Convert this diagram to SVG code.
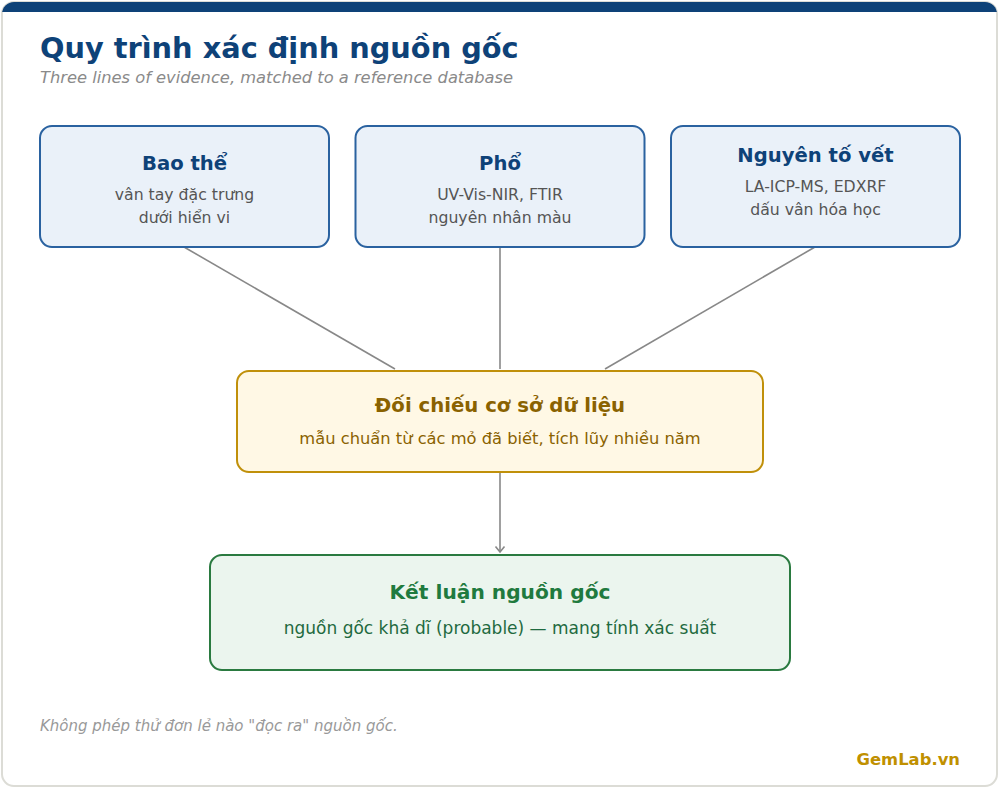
<svg xmlns="http://www.w3.org/2000/svg" width="1000" height="789" viewBox="0 0 1000 789">
<style>
text{font-family:"DejaVu Sans","Noto Sans",sans-serif}
.card{fill:#eaf1f9;stroke:#2a62a0;stroke-width:2}
.ct{font-size:19.6px;font-weight:bold;fill:#0e4278;text-anchor:middle}
.cs{font-size:15.7px;fill:#555;text-anchor:middle}
.conn{stroke:#888;stroke-width:1.6;fill:none}
</style>
<defs>
<marker id="arr" viewBox="0 0 12 12" refX="10.5" refY="6" markerWidth="12" markerHeight="12" markerUnits="userSpaceOnUse" orient="auto">
<path d="M5,1.5 L10.5,6 L5,10.5" fill="none" stroke="#888" stroke-width="1.6"/>
</marker>
<clipPath id="cc"><rect x="2" y="2" width="995" height="784" rx="12"/></clipPath>
</defs>
<rect x="0" y="0" width="1000" height="789" fill="#ffffff"/>
<rect x="2" y="2" width="995" height="784" rx="12" fill="#fff" stroke="#dcdcd6" stroke-width="2"/>
<rect x="2" y="2" width="995" height="10" fill="#0e4278" clip-path="url(#cc)"/>
<text x="40" y="58" font-size="28.8" font-weight="bold" fill="#0e4278">Quy trình xác định nguồn gốc</text>
<text x="40" y="83" font-size="16.3" font-style="italic" fill="#8a8a8a">Three lines of evidence, matched to a reference database</text>
<g id="connectors">
<line class="conn" x1="184" y1="247" x2="395" y2="369"/>
<line class="conn" x1="500" y1="247" x2="500" y2="369"/>
<line class="conn" x1="815" y1="247" x2="605" y2="369"/>
<line class="conn" x1="500" y1="473" x2="500" y2="552" marker-end="url(#arr)"/>
</g>
<g id="bao-the">
<rect class="card" x="40" y="126" width="289" height="121" rx="12"/>
<text class="ct" x="184.5" y="170">Bao thể</text>
<text class="cs" x="184.5" y="200">vân tay đặc trưng</text>
<text class="cs" x="184.5" y="223">dưới hiển vi</text>
</g>
<g id="pho">
<rect class="card" x="355.5" y="126" width="289" height="121" rx="12"/>
<text class="ct" x="500" y="170">Phổ</text>
<text class="cs" x="500" y="200">UV-Vis-NIR, FTIR</text>
<text class="cs" x="500" y="223">nguyên nhân màu</text>
</g>
<g id="nguyen-to">
<rect class="card" x="671" y="126" width="289" height="121" rx="12"/>
<text class="ct" x="815.5" y="162">Nguyên tố vết</text>
<text class="cs" x="815.5" y="192">LA-ICP-MS, EDXRF</text>
<text class="cs" x="815.5" y="215">dấu vân hóa học</text>
</g>
<g id="doi-chieu">
<rect x="237" y="371" width="526" height="101" rx="12" fill="#fff8e5" stroke="#c0900a" stroke-width="2"/>
<text x="500" y="412" font-size="19.7" font-weight="bold" fill="#8a6200" text-anchor="middle">Đối chiếu cơ sở dữ liệu</text>
<text x="500" y="444" font-size="16.3" fill="#8a6200" text-anchor="middle">mẫu chuẩn từ các mỏ đã biết, tích lũy nhiều năm</text>
</g>
<g id="ket-luan">
<rect x="210" y="555" width="580" height="115" rx="12" fill="#ebf5ee" stroke="#2a7a40" stroke-width="2"/>
<text x="500" y="599" font-size="20.2" font-weight="bold" fill="#1f7a3e" text-anchor="middle">Kết luận nguồn gốc</text>
<text x="500" y="634" font-size="17" fill="#1f6a40" text-anchor="middle">nguồn gốc khả dĩ (probable) — mang tính xác suất</text>
</g>
<text x="40" y="731" font-size="15" font-style="italic" fill="#999">Không phép thử đơn lẻ nào "đọc ra" nguồn gốc.</text>
<text x="960" y="765" font-size="16.4" font-weight="bold" fill="#c09000" text-anchor="end">GemLab.vn</text>
</svg>
